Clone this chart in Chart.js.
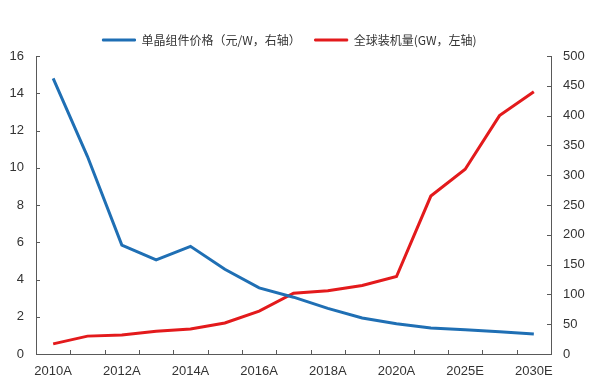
<!DOCTYPE html>
<html>
<head>
<meta charset="utf-8">
<script src="https://cdn.jsdelivr.net/npm/chart.js@4/dist/chart.umd.min.js"></script>
<style>
  html, body { margin: 0; padding: 0; background: #fff; }
  #wrap { width: 597px; height: 384px; }
</style>
</head>
<body>
<div id="wrap"><canvas id="myChart" width="597" height="384"></canvas></div>
<script>
// data
var years = ['2010A', '2011A', '2012A', '2013A', '2014A', '2015A', '2016A', '2017A',
             '2018A', '2019A', '2020A', '2022E', '2025E', '2028E', '2030E'];
var priceData = [14.8, 10.6, 5.85, 5.05, 5.78, 4.55, 3.55, 3.05, 2.45, 1.93, 1.63, 1.4, 1.3, 1.2, 1.07];
var installData = [17, 30, 32, 38, 42, 52, 72, 102, 106, 115, 130, 265, 310, 400, 440];
var leftTicks = [0, 16, 2];     // min, max, step
var rightTicks = [0, 500, 50];

var axisColor = '#595959';
var textColor = '#333333';

// inward tick marks, drawn from the scales
var innerTicks = {
    id: 'innerTicks',
    afterLayout: function(chart) {
        // legend sits a bit left of centre in the original
        chart.legend.left -= 9;
        chart.legend.right -= 9;
    },
    afterDraw: function(chart) {
        var c = chart.ctx, a = chart.chartArea;
        var x = chart.scales.x, yl = chart.scales.y, yr = chart.scales.y1;
        c.save();
        c.strokeStyle = axisColor;
        c.lineWidth = 1;
        c.beginPath();
        for (var i = 0; i < years.length - 1; i++) {
            var px = Math.round((x.getPixelForValue(i) + x.getPixelForValue(i + 1)) / 2) + 0.5;
            c.moveTo(px, a.bottom);
            c.lineTo(px, a.bottom - 4);
        }
        yl.ticks.forEach(function(t) {
            var py = Math.round(yl.getPixelForValue(t.value)) + 0.5;
            c.moveTo(a.left, py);
            c.lineTo(a.left + 4, py);
        });
        yr.ticks.forEach(function(t) {
            var py = Math.round(yr.getPixelForValue(t.value)) + 0.5;
            c.moveTo(a.right, py);
            c.lineTo(a.right - 4, py);
        });
        c.stroke();
        c.restore();
    }
};

var ctx = document.getElementById('myChart').getContext('2d');
var myChart = new Chart(ctx, {
    type: 'line',
    data: {
        labels: years,
        datasets: [{
            label: '单晶组件价格（元/W，右轴）',
            data: priceData,
            borderColor: '#1f6fb4',
            backgroundColor: '#1f6fb4',
            borderWidth: 3,
            pointRadius: 0,
            tension: 0,
            yAxisID: 'y'
        }, {
            label: '全球装机量(GW，左轴)',
            data: installData,
            borderColor: '#e31a1c',
            backgroundColor: '#e31a1c',
            borderWidth: 3,
            pointRadius: 0,
            tension: 0,
            yAxisID: 'y1'
        }]
    },
    options: {
        responsive: false,
        animation: false,
        layout: { padding: { top: 20, left: 0, right: 0, bottom: 0 } },
        plugins: {
            legend: {
                labels: {
                    boxWidth: 33,
                    boxHeight: 2,
                    padding: 14,
                    color: textColor,
                    font: { family: '"Noto Sans CJK SC", "Liberation Sans", sans-serif', size: 12 },
                    generateLabels: function(chart) {
                        var items = Chart.defaults.plugins.legend.labels.generateLabels(chart);
                        items.forEach(function(it) { it.lineWidth = 1; });
                        return items;
                    }
                }
            },
            tooltip: { enabled: false }
        },
        scales: {
            x: {
                offset: true,
                grid: { display: false, drawTicks: false },
                border: { display: true, color: axisColor },
                ticks: {
                    autoSkip: false,
                    maxRotation: 0,
                    padding: 10,
                    color: textColor,
                    font: { family: '"Liberation Sans", Arial, sans-serif', size: 13 },
                    callback: function(v, i) { return i % 2 === 0 ? years[i] : ''; }
                },
                afterFit: function(s) { s.height = 30; }
            },
            y: {
                position: 'left',
                min: leftTicks[0], max: leftTicks[1],
                grid: { display: false, drawTicks: false },
                border: { display: true, color: axisColor },
                ticks: {
                    stepSize: leftTicks[2],
                    padding: 12,
                    color: textColor,
                    font: { family: '"Liberation Sans", Arial, sans-serif', size: 13 }
                },
                afterFit: function(s) { s.width = 36; }
            },
            y1: {
                position: 'right',
                min: rightTicks[0], max: rightTicks[1],
                grid: { display: false, drawTicks: false },
                border: { display: true, color: axisColor },
                ticks: {
                    stepSize: rightTicks[2],
                    padding: 12,
                    color: textColor,
                    font: { family: '"Liberation Sans", Arial, sans-serif', size: 13 }
                },
                afterFit: function(s) { s.width = 46; }
            }
        }
    },
    plugins: [innerTicks]
});
</script>
</body>
</html>
